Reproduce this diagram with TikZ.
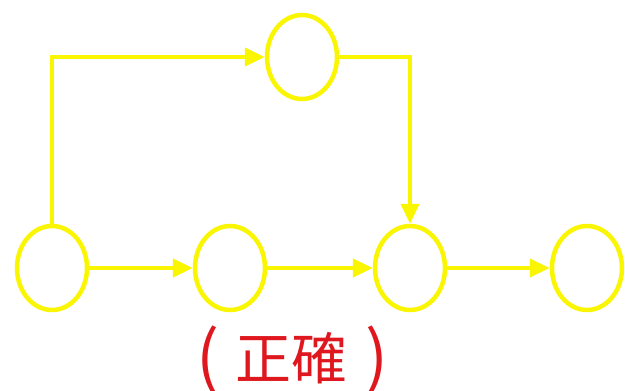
\documentclass[tikz,border=0pt]{standalone}
\usepackage{fontspec}
\newfontfamily\cjkfont{Noto Sans CJK TC}
\usetikzlibrary{shapes.geometric,arrows.meta}
\definecolor{evyellow}{RGB}{250,245,0}
\definecolor{evred}{RGB}{222,24,30}
\tikzset{
  event/.style={ellipse, draw=evyellow, line width=4.5pt, fill=white,
    minimum width=70pt, minimum height=84pt, inner sep=0pt},
  flow/.style={draw=evyellow, line width=4.5pt,
    -{Triangle[length=20pt,width=18pt]}},
  captext/.style={text=evred, inner sep=0pt,
    font=\cjkfont\fontsize{56}{60}\selectfont},
  paren/.style={text=evred, inner sep=0pt,
    font=\cjkfont\fontsize{68}{72}\selectfont},
}
\begin{document}
\begin{tikzpicture}[x=1pt,y=-1pt]
  \useasboundingbox (0,0) rectangle (625,391);
  % activity network nodes
  \node[event] (a) at (52,268) {};
  \node[event] (b) at (230,268) {};
  \node[event] (c) at (410,268) {};
  \node[event] (d) at (587,268) {};
  \node[event] (t) at (302,57) {};
  % connectors
  \draw[flow] (a.east) -- (b.west);
  \draw[flow] (b.east) -- (c.west);
  \draw[flow] (c.east) -- (d.west);
  \draw[flow] (a.north) |- (t.west);
  \draw[flow] (t.east) -| (c.north);
  % caption
  \node[captext] (cap) at (291,358) {正確};
  \node[paren] (lp) at (208,360) {(};
  \node[paren] (rp) at (377,360) {)};
\end{tikzpicture}
\end{document}
